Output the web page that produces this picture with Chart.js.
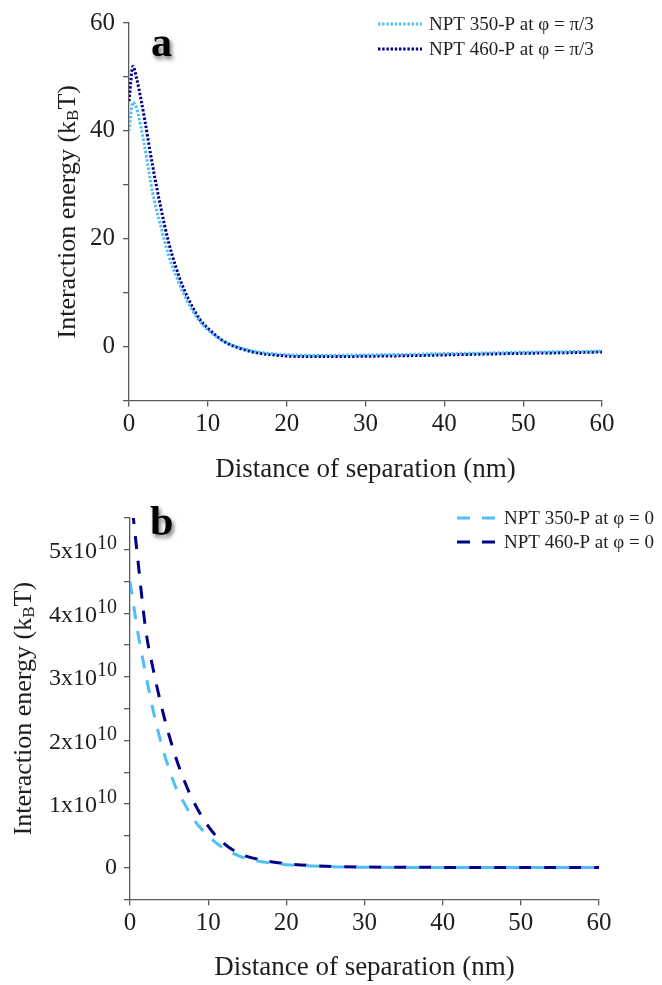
<!DOCTYPE html>
<html>
<head>
<meta charset="utf-8">
<script src="https://cdn.jsdelivr.net/npm/chart.js@4/dist/chart.umd.min.js"></script>
<style>
  html, body { margin: 0; padding: 0; background: #fff; }
  canvas { display: block; }
</style>
</head>
<body>
<canvas id="chartA" width="662" height="490"></canvas>
<canvas id="chartB" width="662" height="495"></canvas>
<script>
"use strict";

// panel a: separation distance (nm) and interaction energy (kBT) at phi = pi/3
const distA = [0, 0.5, 1, 1.5, 2, 3, 4, 5, 6, 7, 8, 9, 10, 12, 14, 16, 18, 20, 22, 25, 30, 35, 40, 45, 50, 55, 60];
const npt350Pi3 = [40, 45.3, 44, 40.8, 37, 28.5, 22.5, 17, 13, 9.6, 6.8, 4.7, 3.1, 1, -0.2, -0.9, -1.3, -1.5, -1.6, -1.6, -1.55, -1.45, -1.3, -1.2, -1.05, -0.95, -0.85];
const npt460Pi3 = [45.5, 52, 49.5, 46, 42, 33.5, 26, 19.5, 14.5, 10.5, 7.5, 5, 3.4, 1, -0.3, -1.1, -1.5, -1.75, -1.85, -1.85, -1.8, -1.7, -1.55, -1.4, -1.25, -1.15, -1.0];

// panel b: interaction energy (kBT) at phi = 0
const distB = [0, 1, 2, 3, 4, 5, 6, 7, 8, 10, 12, 14, 16, 18, 20, 25, 30, 40, 50, 60];
const npt350Phi0 = [4.5e10, 3.7e10, 3.05e10, 2.45e10, 1.95e10, 1.55e10, 1.22e10, 1.0e10, 0.78e10, 0.5e10, 0.3e10, 0.18e10, 0.11e10, 0.07e10, 0.045e10, 0.015e10, 0.005e10, 0.001e10, 0, 0];
const npt460Phi0 = [6.0e10, 4.85e10, 3.75e10, 3.1e10, 2.55e10, 2.08e10, 1.68e10, 1.35e10, 1.07e10, 0.65e10, 0.38e10, 0.22e10, 0.14e10, 0.09e10, 0.06e10, 0.02e10, 0.008e10, 0.002e10, 0, 0];

// axis ticks
const xTicks = { min: 0, max: 60, step: 10 };
const yTicksA = { min: -10, max: 60, step: 10, labelEvery: 20 };
const yTicksB = { min: -0.5e10, max: 5.5e10, step: 0.5e10, labelEvery: 1e10 };

const serif = "'Liberation Serif', 'Times New Roman', serif";
const lightBlue = "#4fbff6";
const darkBlue = "#00008b";
const axisColor = "#5a5a5a";
const textColor = "#1e1e1e";

const toPoints = function (xs, ys) {
  return xs.map((x, i) => ({ x: x, y: ys[i] }));
};

// draws panel letter, legend, y title with subscript and (for b) power-of-ten tick labels
const decorPlugin = {
  id: "decor",
  afterDraw(chart, args, opts) {
    const ctx = chart.ctx;
    const area = chart.chartArea;

    // panel letter with soft shadow
    ctx.save();
    ctx.font = "bold 42px " + serif;
    ctx.fillStyle = "#000";
    ctx.shadowColor = "rgba(0,0,0,0.55)";
    ctx.shadowBlur = 4;
    ctx.shadowOffsetX = 2;
    ctx.shadowOffsetY = 3;
    ctx.textBaseline = "alphabetic";
    ctx.fillText(opts.letter, opts.letterX, opts.letterY);
    ctx.restore();

    // legend
    ctx.save();
    chart.data.datasets.forEach((ds, i) => {
      const y = opts.legendY[i];
      ctx.beginPath();
      ctx.setLineDash(ds.borderDash);
      ctx.lineCap = "butt";
      ctx.lineWidth = ds.borderWidth;
      ctx.strokeStyle = ds.borderColor;
      ctx.moveTo(opts.legendX0, y);
      ctx.lineTo(opts.legendX1, y);
      ctx.stroke();
      ctx.setLineDash([]);
      ctx.font = "19px " + serif;
      ctx.fillStyle = textColor;
      ctx.textBaseline = "middle";
      ctx.fillText(ds.label, opts.legendX1 + 7, y + 1);
    });
    ctx.restore();

    // y axis title: Interaction energy (k_B T)
    ctx.save();
    ctx.translate(opts.titleX, (area.top + area.bottom) / 2);
    ctx.rotate(-Math.PI / 2);
    ctx.fillStyle = textColor;
    ctx.textBaseline = "middle";
    const parts = [
      ["Interaction energy (k", "26px " + serif, 0],
      ["B", "17px " + serif, 6],
      ["T)", "26px " + serif, 0],
    ];
    let total = 0;
    parts.forEach((p) => {
      ctx.font = p[1];
      total += ctx.measureText(p[0]).width;
    });
    let x = -total / 2;
    parts.forEach((p) => {
      ctx.font = p[1];
      ctx.fillText(p[0], x, p[2]);
      x += ctx.measureText(p[0]).width;
    });
    ctx.restore();

    // powers of ten labels
    if (opts.sciLabels) {
      const scale = chart.scales.y;
      ctx.save();
      ctx.fillStyle = textColor;
      ctx.textBaseline = "middle";
      scale.ticks.forEach((t) => {
        const n = t.value / 1e10;
        if (t.value < 0 || Math.abs(n - Math.round(n)) > 1e-6) return;
        const y = scale.getPixelForValue(t.value);
        const right = area.left - 13;
        if (Math.round(n) === 0) {
          ctx.font = "24px " + serif;
          ctx.textAlign = "right";
          ctx.fillText("0", right, y);
          return;
        }
        ctx.textAlign = "left";
        ctx.font = "20px " + serif;
        const supW = ctx.measureText("10").width;
        ctx.font = "24px " + serif;
        const base = Math.round(n) + "x10";
        const baseW = ctx.measureText(base).width;
        const start = right - supW - baseW;
        ctx.fillText(base, start, y + 2);
        ctx.font = "20px " + serif;
        ctx.fillText("10", start + baseW, y - 6);
      });
      ctx.restore();
    }
  },
};

const makeChart = function (id, cfg) {
  return new Chart(document.getElementById(id), {
    type: "line",
    data: {
      datasets: cfg.series.map((s) => ({
        label: s.label,
        data: toPoints(s.xs, s.ys),
        borderColor: s.color,
        borderWidth: s.width,
        borderDash: s.dash,
        borderCapStyle: "butt",
        pointRadius: 0,
        fill: false,
        cubicInterpolationMode: "monotone",
      })),
    },
    options: {
      responsive: false,
      animation: false,
      devicePixelRatio: 1,
      layout: { padding: cfg.padding },
      plugins: {
        legend: { display: false },
        tooltip: { enabled: false },
        decor: cfg.decor,
      },
      scales: {
        x: {
          type: "linear",
          min: xTicks.min,
          max: xTicks.max,
          afterFit: (scale) => { scale.height = cfg.xHeight; },
          border: { display: true, color: axisColor, width: 1.3 },
          grid: { drawOnChartArea: false, drawTicks: true, tickLength: 6, color: axisColor, lineWidth: 1.3 },
          ticks: {
            stepSize: xTicks.step,
            maxRotation: 0,
            padding: 3,
            color: textColor,
            font: { family: serif, size: 25 },
          },
          title: {
            display: true,
            text: "Distance of separation (nm)",
            color: textColor,
            font: { family: serif, size: 27 },
            padding: { top: 0, bottom: cfg.xTitlePad },
          },
        },
        y: {
          type: "linear",
          min: cfg.yTicks.min,
          max: cfg.yTicks.max,
          afterFit: (scale) => { scale.width = cfg.yWidth; },
          border: { display: true, color: axisColor, width: 1.3 },
          grid: { drawOnChartArea: false, drawTicks: true, tickLength: 6, color: axisColor, lineWidth: 1.3 },
          ticks: {
            stepSize: cfg.yTicks.step,
            autoSkip: false,
            padding: 8,
            color: textColor,
            font: { family: serif, size: cfg.decor.sciLabels ? 8 : 25 },
            callback: (v) => {
              if (cfg.decor.sciLabels) return "";
              return v % cfg.yTicks.labelEvery === 0 ? v : "";
            },
          },
        },
      },
    },
    plugins: [decorPlugin],
  });
};

makeChart("chartA", {
  series: [
    { label: "NPT 350-P at \u03c6 = \u03c0/3", xs: distA, ys: npt350Pi3, color: lightBlue, width: 3, dash: [2.4, 1.8] },
    { label: "NPT 460-P at \u03c6 = \u03c0/3", xs: distA, ys: npt460Pi3, color: darkBlue, width: 3, dash: [2.4, 1.8] },
  ],
  yTicks: yTicksA,
  padding: { top: 16, right: 60, left: 0, bottom: 0 },
  yWidth: 129,
  xHeight: 89.5,
  xTitlePad: 4,
  decor: { letter: "a", letterX: 151, letterY: 56, legendX0: 378, legendX1: 422, legendY: [24, 49], titleX: 68, sciLabels: false },
});

makeChart("chartB", {
  series: [
    { label: "NPT 350-P at \u03c6 = 0", xs: distB, ys: npt350Phi0, color: lightBlue, width: 3, dash: [13, 12] },
    { label: "NPT 460-P at \u03c6 = 0", xs: distB, ys: npt460Phi0, color: darkBlue, width: 3, dash: [13, 12] },
  ],
  yTicks: yTicksB,
  padding: { top: 28, right: 63, left: 0, bottom: 0 },
  yWidth: 130,
  xHeight: 85.7,
  xTitlePad: 1,
  decor: { letter: "b", letterX: 150, letterY: 45, legendX0: 457, legendX1: 497, legendY: [28, 52], titleX: 24, sciLabels: true },
});
</script>
</body>
</html>
